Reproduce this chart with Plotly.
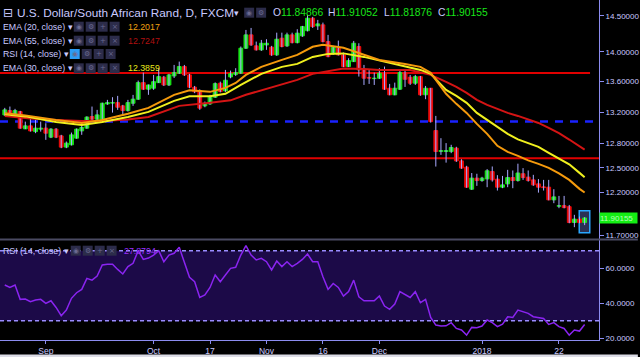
import math
import pandas as pd
import plotly.graph_objects as go

# ---------------- data ----------------
_all_days = pd.bdate_range("2017-08-22", "2018-01-29")
dates = [d.strftime("%Y-%m-%d") for d in _all_days if d.strftime("%m-%d") != "12-25"]

open_ = [13.163, 13.219, 13.163, 13.206, 12.985, 13.023, 12.950, 12.981, 12.994, 12.880,
         12.981, 12.896, 12.755, 12.784, 12.867, 12.959, 12.994, 13.142, 13.108, 13.108,
         13.305, 13.316, 13.322, 13.280, 13.219, 13.314, 13.367, 13.585, 13.498, 13.511,
         13.585, 13.657, 13.554, 13.674, 13.711, 13.800, 13.688, 13.524, 13.480, 13.280,
         13.305, 13.393, 13.577, 13.476, 13.661, 13.695, 13.711, 14.050, 14.234, 14.082,
         14.027, 14.095, 14.064, 13.958, 14.188, 14.082, 14.234, 14.127, 14.220, 14.293,
         14.468, 14.360, 14.374, 14.141, 13.981, 14.050, 13.958, 13.800, 13.867, 14.073,
         13.755, 13.654, 13.639, 13.644, 13.711, 13.511, 13.424, 13.498, 13.719, 13.657,
         13.577, 13.665, 13.424, 13.511, 12.963, 12.702, 12.700, 12.700, 12.742, 12.585,
         12.508, 12.241, 12.374, 12.345, 12.365, 12.454, 12.362, 12.265, 12.305, 12.381,
         12.345, 12.427, 12.386, 12.353, 12.305, 12.269, 12.265, 12.114, 12.039, 12.046,
         12.034, 11.849, 11.888, 11.84866]
high = [13.254, 13.271, 13.241, 13.215, 13.077, 13.121, 13.099, 13.077, 13.056, 12.994,
        12.994, 12.909, 12.825, 12.938, 12.990, 13.056, 13.145, 13.271, 13.228, 13.322,
        13.358, 13.393, 13.410, 13.293, 13.358, 13.423, 13.612, 13.719, 13.560, 13.688,
        13.778, 13.674, 13.702, 13.822, 13.867, 13.822, 13.702, 13.541, 13.496, 13.336,
        13.423, 13.588, 13.598, 13.755, 13.746, 13.778, 14.073, 14.303, 14.331, 14.141,
        14.164, 14.174, 14.082, 14.265, 14.265, 14.265, 14.265, 14.313, 14.360, 14.515,
        14.487, 14.444, 14.406, 14.234, 14.082, 14.155, 13.990, 13.913, 14.150, 14.118,
        13.822, 13.755, 13.719, 13.778, 13.800, 13.568, 13.585, 13.755, 13.746, 13.688,
        13.688, 13.674, 13.541, 13.515, 13.150, 12.867, 12.805, 12.784, 12.759, 12.605,
        12.524, 12.436, 12.427, 12.390, 12.484, 12.516, 12.410, 12.401, 12.475, 12.467,
        12.550, 12.496, 12.467, 12.414, 12.362, 12.353, 12.353, 12.241, 12.161, 12.161,
        12.054, 11.938, 11.918, 11.91052]
low = [13.150, 13.163, 13.150, 12.985, 12.981, 12.950, 12.930, 12.950, 12.846, 12.868,
       12.868, 12.742, 12.742, 12.775, 12.860, 12.909, 12.985, 13.099, 13.099, 13.099,
       13.293, 13.193, 13.228, 13.163, 13.206, 13.280, 13.358, 13.489, 13.424, 13.489,
       13.580, 13.540, 13.540, 13.647, 13.700, 13.674, 13.511, 13.446, 13.228, 13.262,
       13.293, 13.385, 13.456, 13.463, 13.643, 13.674, 13.702, 14.040, 14.082, 14.017,
       14.013, 14.027, 13.945, 13.945, 14.062, 14.068, 14.116, 14.116, 14.206, 14.282,
       14.331, 14.303, 14.130, 13.926, 13.958, 13.950, 13.792, 13.792, 13.863, 13.666,
       13.554, 13.568, 13.554, 13.635, 13.489, 13.418, 13.418, 13.489, 13.528, 13.554,
       13.554, 13.411, 13.367, 13.064, 12.515, 12.659, 12.563, 12.680, 12.572, 12.487,
       12.257, 12.233, 12.281, 12.330, 12.265, 12.332, 12.225, 12.253, 12.265, 12.253,
       12.332, 12.353, 12.332, 12.281, 12.200, 12.225, 12.108, 12.075, 12.016, 12.014,
       11.840, 11.795, 11.840, 11.81876]
close = [13.228, 13.176, 13.219, 12.994, 13.023, 12.959, 12.994, 12.994, 12.930, 12.981,
         12.880, 12.755, 12.805, 12.909, 12.981, 13.002, 13.135, 13.108, 13.163, 13.314,
         13.322, 13.322, 13.262, 13.219, 13.322, 13.367, 13.585, 13.498, 13.554, 13.598,
         13.665, 13.554, 13.688, 13.719, 13.800, 13.688, 13.524, 13.463, 13.250, 13.314,
         13.401, 13.572, 13.467, 13.617, 13.704, 13.719, 14.050, 14.234, 14.095, 14.027,
         14.118, 14.118, 13.958, 14.174, 14.073, 14.234, 14.127, 14.258, 14.350, 14.468,
         14.350, 14.388, 14.141, 13.935, 14.073, 13.958, 13.800, 13.881, 14.118, 13.755,
         13.644, 13.644, 13.644, 13.711, 13.498, 13.424, 13.511, 13.719, 13.630, 13.577,
         13.665, 13.424, 13.511, 13.077, 12.700, 12.712, 12.712, 12.750, 12.585, 12.496,
         12.265, 12.374, 12.345, 12.374, 12.463, 12.353, 12.265, 12.293, 12.381, 12.345,
         12.436, 12.381, 12.345, 12.293, 12.265, 12.260, 12.114, 12.149, 12.046, 12.023,
         11.849, 11.888, 11.849, 11.90155]

rsi = [50.4, 49.0, 50.4, 42.2, 42.4, 40.9, 41.8, 42.2, 39.9, 41.4,
       37.6, 32.9, 36.1, 42.8, 46.0, 47.9, 54.2, 53.2, 55.5, 61.8,
       62.2, 62.2, 59.3, 56.7, 60.9, 62.8, 70.0, 65.0, 65.8, 67.5,
       70.0, 63.7, 67.5, 68.5, 71.9, 63.1, 54.8, 52.3, 43.3, 44.7,
       49.0, 56.1, 52.3, 56.1, 59.9, 60.5, 67.5, 72.9, 67.5, 64.7,
       65.6, 63.7, 59.0, 64.1, 60.9, 63.7, 60.9, 62.8, 65.0, 68.1,
       63.7, 63.7, 55.1, 47.9, 51.3, 49.0, 44.1, 46.6, 53.2, 43.7,
       41.4, 41.4, 41.4, 44.1, 38.4, 36.5, 39.5, 46.6, 44.7, 43.3,
       46.6, 40.3, 42.2, 31.9, 27.5, 27.0, 27.1, 28.9, 25.6, 24.7,
       21.8, 26.2, 26.0, 27.0, 30.4, 28.9, 26.6, 28.1, 32.3, 31.9,
       36.1, 35.1, 34.2, 32.3, 31.7, 31.3, 27.9, 28.9, 26.6, 25.6,
       21.8, 24.7, 24.1, 27.8794]

ema20_idx = [0, 4, 10, 15, 19, 24, 28, 33, 36, 40, 43, 45, 47, 50, 54, 57, 60, 62, 66, 70,
             73, 78, 81, 83, 85, 86, 88, 90, 92, 94, 96, 98, 100, 102, 104, 106, 108, 110, 112, 113]
ema20_val = [13.183, 13.157, 13.099, 13.060, 13.099, 13.177, 13.254, 13.423, 13.483, 13.463,
             13.515, 13.581, 13.688, 13.796, 13.890, 13.958, 14.069, 14.098, 14.055, 13.958,
             13.890, 13.836, 13.796, 13.715, 13.528, 13.437, 13.306, 13.189, 13.048, 12.921,
             12.771, 12.696, 12.647, 12.590, 12.548, 12.499, 12.432, 12.353, 12.245, 12.2017]

ema30_idx = [0, 4, 10, 15, 19, 24, 28, 33, 36, 40, 43, 46, 50, 54, 57, 60, 63, 66, 70, 74,
             78, 81, 83, 86, 88, 90, 92, 94, 96, 98, 100, 102, 104, 106, 108, 110, 112, 113]
ema30_val = [13.170, 13.144, 13.073, 13.035, 13.073, 13.137, 13.202, 13.345, 13.404, 13.404,
             13.437, 13.556, 13.702, 13.796, 13.836, 13.931, 13.972, 13.979, 13.931, 13.863,
             13.796, 13.755, 13.702, 13.489, 13.410, 13.319, 13.189, 13.099, 13.010, 12.921,
             12.852, 12.802, 12.759, 12.684, 12.616, 12.542, 12.438, 12.3859]

ema55_idx = [0, 5, 10, 15, 19, 24, 28, 34, 40, 44, 47, 50, 54, 57, 60, 63, 66, 70, 73, 79,
             83, 86, 88, 90, 92, 94, 96, 98, 100, 102, 104, 106, 108, 110, 112, 113]
ema55_val = [13.150, 13.118, 13.099, 13.086, 13.086, 13.105, 13.137, 13.280, 13.319, 13.352,
             13.424, 13.483, 13.561, 13.621, 13.702, 13.741, 13.775, 13.768, 13.755, 13.755,
             13.688, 13.594, 13.528, 13.450, 13.358, 13.293, 13.241, 13.189, 13.150, 13.105,
             13.060, 12.997, 12.930, 12.850, 12.770, 12.7247]

level_red_top = 13.715
level_blue = 13.079
level_red_low = 12.616

price_ticks = [14.5, 14.0, 13.6, 13.2, 12.8, 12.5, 12.2, 11.7]
rsi_ticks = [60, 40, 20]
xtick_idx = [8, 29, 40, 51, 62, 73, 93, 108]
xtick_text = ["Sep", "Oct", "17", "Nov", "16", "Dec", "2018", "22"]

last_o, last_h, last_l, last_c = 11.84866, 11.91052, 11.81876, 11.90155
ema20_last, ema55_last, ema30_last, rsi_last = "12.2017", "12.7247", "12.3859", "27.8794"

# ---------------- styling ----------------
LAV = "#c9c9ff"
GREEN = "#19e619"
RED = "#ee0a0a"
WICK = "#a9a9ff"
FONT = "Liberation Sans"
PW, PH = 601.0, 340.0


def PX(x):
    return x / PW


def PY(y):
    return (PH - y) / PH


fig = go.Figure()

# wicks
wx, wy = [], []
for d, h, l in zip(dates, high, low):
    wx += [d, d, None]
    wy += [l, h, None]
fig.add_trace(go.Scatter(x=wx, y=wy, mode="lines", line=dict(color=WICK, width=1),
                         hoverinfo="skip", showlegend=False, xaxis="x", yaxis="y"))

# bodies (bars from open to close)
body_base = [min(o, c) for o, c in zip(open_, close)]
body_len = [abs(c - o) for o, c in zip(open_, close)]
body_col = [GREEN if c >= o else RED for o, c in zip(open_, close)]
fig.add_trace(go.Bar(x=dates, y=body_len, base=body_base, width=0.74,
                     marker=dict(color=body_col, line=dict(color=body_col, width=1)),
                     showlegend=False, xaxis="x", yaxis="y"))

# EMAs
fig.add_trace(go.Scatter(x=[dates[i] for i in ema55_idx], y=ema55_val, mode="lines",
                         line=dict(color="#d41414", width=2), showlegend=False, xaxis="x", yaxis="y"))
fig.add_trace(go.Scatter(x=[dates[i] for i in ema30_idx], y=ema30_val, mode="lines",
                         line=dict(color="#f0f01e", width=2), showlegend=False, xaxis="x", yaxis="y"))
fig.add_trace(go.Scatter(x=[dates[i] for i in ema20_idx], y=ema20_val, mode="lines",
                         line=dict(color="#f59a0c", width=2), showlegend=False, xaxis="x", yaxis="y"))

# RSI
fig.add_trace(go.Scatter(x=dates, y=rsi, mode="lines", line=dict(color="#8a24f0", width=1.5),
                         showlegend=False, xaxis="x", yaxis="y2"))

shapes = []
# RSI band
shapes.append(dict(type="rect", xref="paper", x0=0, x1=1, yref="y2", y0=30, y1=70,
                   fillcolor="#1c0a48", line=dict(width=0), layer="below"))
for lv in (70, 30):
    shapes.append(dict(type="line", xref="paper", x0=0, x1=1, yref="y2", y0=lv, y1=lv,
                       line=dict(color="#9a8cff", width=1.5, dash="4px,3px"), layer="below"))
# horizontal price levels
shapes.append(dict(type="line", xref="paper", x0=0, x1=592 / PW, yref="y", y0=level_red_top, y1=level_red_top,
                   line=dict(color="#e00000", width=2), layer="below"))
shapes.append(dict(type="line", xref="paper", x0=0, x1=1, yref="y", y0=level_blue, y1=level_blue,
                   line=dict(color="#1a22ff", width=2.5, dash="8px,7px"), layer="below"))
shapes.append(dict(type="line", xref="paper", x0=0, x1=1, yref="y", y0=level_red_low, y1=level_red_low,
                   line=dict(color="#e00000", width=2), layer="below"))
# box around last candle
shapes.append(dict(type="rect", xref="x", x0=len(dates) - 2.05, x1=len(dates) - 0.0, yref="y",
                   y0=11.73, y1=11.985, fillcolor="rgba(70,80,140,0.6)",
                   line=dict(color="#2aa6ff", width=1.5), layer="below"))
# panel separator and bottom strip
shapes.append(dict(type="line", xref="paper", x0=0, x1=640 / PW, yref="paper", y0=PY(239.5), y1=PY(239.5),
                   line=dict(color="#4a4a62", width=2)))
shapes.append(dict(type="rect", xref="paper", x0=0, x1=640 / PW, yref="paper", y0=PY(357), y1=PY(354.5),
                   fillcolor="#dcdce6", line=dict(width=0)))

annotations = []


def text(x, y, s, size=8, color=LAV, family=FONT):
    annotations.append(dict(xref="paper", yref="paper", x=PX(x), y=PY(y), text=s, showarrow=False,
                            xanchor="left", yanchor="middle", font=dict(family=family, size=size, color=color)))


def icons(x0, y, n=4, first_blue=False):
    glyphs = ["◉", "⚙", "+", "×"]
    for k in range(n):
        x = x0 + k * 12
        fill = "#2d9cf5" if (first_blue and k == 0) else "#2c2c4a"
        shapes.append(dict(type="rect", xref="paper", yref="paper", x0=PX(x), x1=PX(x + 10),
                           y0=PY(y + 5), y1=PY(y - 5), fillcolor=fill, line=dict(width=0)))
        annotations.append(dict(xref="paper", yref="paper", x=PX(x + 5), y=PY(y), text=glyphs[k],
                                showarrow=False, xanchor="center", yanchor="middle",
                                font=dict(family="DejaVu Sans", size=7, color="#6a6a90")))


# header
text(1, 12.7, "⊟", size=12, family="DejaVu Sans")
text(15, 12.7, "U.S. Dollar/South African Rand, D, FXCM", size=11.8)
text(233, 12.7, "▾", size=9, family="DejaVu Sans")
icons(245, 12.7, n=2)
for lbl, val, x in (("O", last_o, 272), ("H", last_h, 327), ("L", last_l, 383), ("C", last_c, 437)):
    text(x, 12.7, f"{lbl}<span style='color:{GREEN}'>{val:.5f}</span>", size=10.3)

rows = [("EMA (20, close) ▾", 26.7, ema20_last, "#f0a010", False, 74),
        ("EMA (55, close) ▾", 40.7, ema55_last, "#b01010", False, 74),
        ("RSI (14, close) ▾", 54.0, None, None, True, 70),
        ("EMA (30, close) ▾", 68.3, ema30_last, "#e8e81a", False, 74)]
for label, y, val, col, blue, ix in rows:
    text(1, y, label, size=8.8)
    icons(ix, y, first_blue=blue)
    if val:
        text(126, y, val, size=8.8, color=col)

text(1, 250.7, "RSI (14, close) ▾", size=8.8)
icons(71, 250.7)
text(122, 250.7, rsi_last, size=8.8, color="#9a30ff")

# current price label
annotations.append(dict(xref="paper", yref="y", x=1.0, y=math.log10(last_c), text=f"{last_c:.5f}",
                        showarrow=False, xanchor="left", yanchor="middle", bgcolor="#14ee14",
                        width=37, height=10, align="left", borderpad=0,
                        font=dict(family=FONT, size=8, color="#b8ffb8")))

y_top = (2751.6 - 0) / 1023 / math.log(10)
y_bot = (2751.6 - 239) / 1023 / math.log(10)

fig.update_layout(
    width=640, height=357, autosize=False,
    margin=dict(l=0, r=39, t=0, b=17),
    paper_bgcolor="#000000", plot_bgcolor="#000000",
    showlegend=False, barmode="overlay",
    shapes=shapes, annotations=annotations,
    xaxis=dict(type="category", range=[-0.93, 115.8], anchor="y2",
               tickmode="array", tickvals=[dates[i] for i in xtick_idx], ticktext=xtick_text,
               ticks="outside", ticklen=3, tickcolor="#8c8cf0", showgrid=False, zeroline=False,
               showline=True, linecolor="#8c8cf0", linewidth=1,
               tickfont=dict(family=FONT, size=8.5, color=LAV)),
    yaxis=dict(type="log", domain=[PY(239), 1], range=[y_bot, y_top], side="right",
               tickmode="array", tickvals=price_ticks, ticktext=[f"{v:.5f}" for v in price_ticks],
               ticks="outside", ticklen=4, tickcolor="#8c8cf0", showgrid=False, zeroline=False,
               showline=True, linecolor="#8c8cf0", linewidth=1,
               tickfont=dict(family=FONT, size=8, color=LAV)),
    yaxis2=dict(domain=[0, PY(240)], range=[19.0, 76.1], side="right", anchor="x",
                tickmode="array", tickvals=rsi_ticks, ticktext=[f"{v:.4f}" for v in rsi_ticks],
                ticks="outside", ticklen=4, tickcolor="#8c8cf0", showgrid=False, zeroline=False,
                showline=True, linecolor="#8c8cf0", linewidth=1,
                tickfont=dict(family=FONT, size=8, color=LAV)),
)

fig.write_html("out.html")
